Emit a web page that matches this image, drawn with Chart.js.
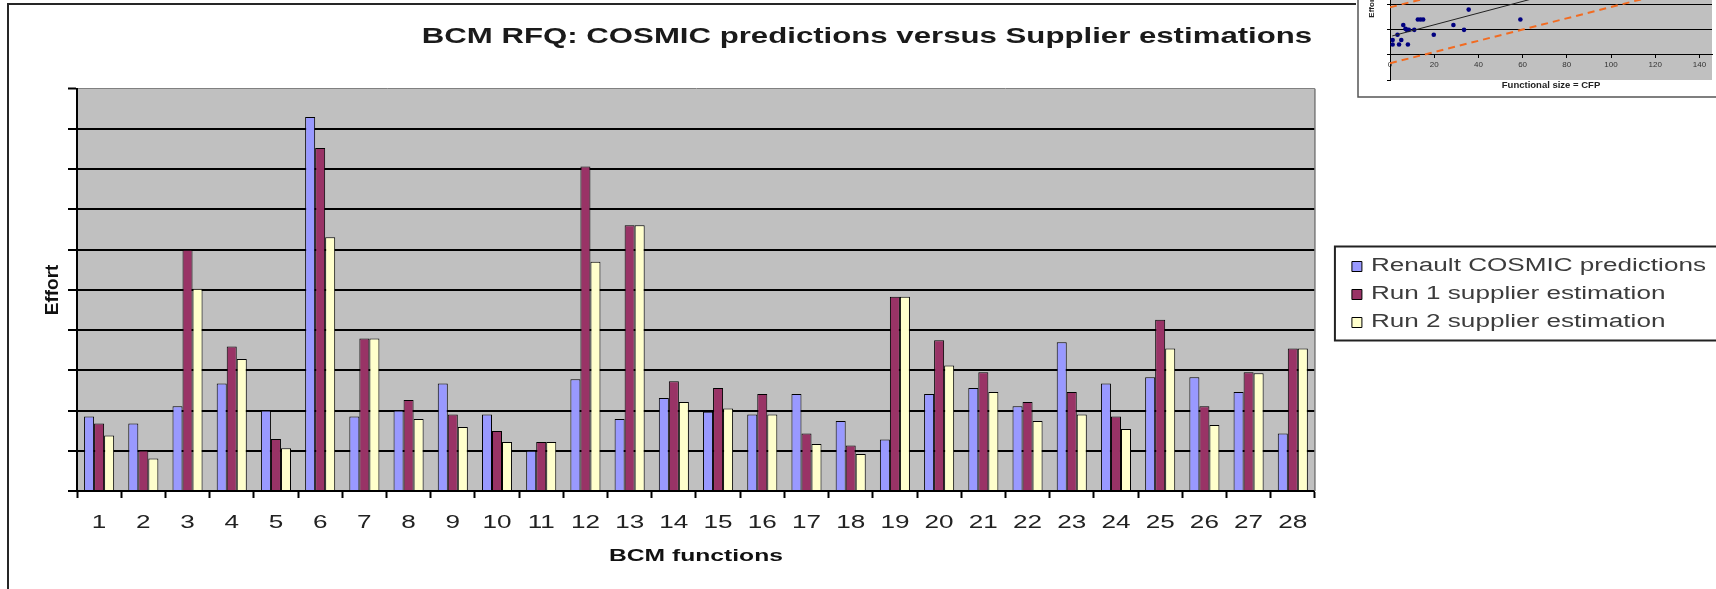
<!DOCTYPE html>
<html><head><meta charset="utf-8">
<script src="https://cdn.jsdelivr.net/npm/chart.js@4.4.0/dist/chart.umd.min.js"></script>
<style>
html,body{margin:0;padding:0;background:#fff;overflow:hidden;width:1716px;height:589px;}
#main{position:absolute;left:0;top:0;}
#inset{position:absolute;left:1357px;top:-70px;}
</style></head><body>
<canvas id="main" width="1716" height="589"></canvas>
<canvas id="inset" width="359" height="168"></canvas>
<script>
// ---------- main chart data ----------
const categories = ['1','2','3','4','5','6','7','8','9','10','11','12','13','14','15','16','17','18','19','20','21','22','23','24','25','26','27','28'];
const renaultCosmic = [1.85,1.68,2.11,2.67,2.00,9.30,1.85,2.00,2.67,1.90,1.00,2.78,1.79,2.31,1.97,1.90,2.41,1.74,1.28,2.41,2.56,2.11,3.70,2.67,2.83,2.83,2.46,1.43];
const run1Supplier = [1.68,1.01,6.00,3.59,1.29,8.53,3.79,2.26,1.90,1.49,1.22,8.07,6.61,2.73,2.56,2.41,1.43,1.13,4.83,3.75,2.95,2.21,2.46,1.85,4.26,2.11,2.95,3.54];
const run2Supplier = [1.38,0.81,5.03,3.28,1.06,6.31,3.79,1.79,1.59,1.22,1.22,5.70,6.61,2.21,2.05,1.90,1.17,0.92,4.83,3.12,2.46,1.74,1.90,1.54,3.54,1.64,2.93,3.54];
const mainYTicks = [0,1,2,3,4,5,6,7,8,9,10];

// ---------- inset chart data ----------
const insetSizes   = [1.2,1.2,4.1,3.4,5.1,6.0,7.0,7.6,8.5,8.1,11.0,12.6,13.8,15.0,19.8,28.7,33.5,35.6,59.0];
const insetEfforts = [0.58,0.40,0.40,0.79,0.58,1.17,1.02,0.98,0.98,0.40,0.98,1.39,1.39,1.39,0.79,1.17,0.98,1.78,1.39];
const regressionX = [1, 145];
const regressionY = [0.74, 4.07];
const lowerBoundX = [0, 145];
const lowerBoundY = [-0.34, 2.88];
const upperBoundX = [0, 145];
const upperBoundY = [1.87, 5.09];
const insetXTicks = [0,20,40,60,80,100,120,140];
const insetYTicks = [-1,0,1,2,3,4];

const FONT = "'Liberation Sans', Arial, sans-serif";

// horizontal text stretch for the main chart (reference text is widened)
const mainCanvas = document.getElementById('main');
const mctx = mainCanvas.getContext('2d');
const SX = 1.45;
const _fill = mctx.fillText.bind(mctx);
const _meas = mctx.measureText.bind(mctx);
mctx.fillText = function(t, x, y, mw) {
  const m = mctx.getTransform();
  if (Math.abs(m.b) > 1e-6 || Math.abs(m.c) > 1e-6) { return _fill(t, x, y); }
  mctx.save(); mctx.translate(x, y); mctx.scale(SX, 1); _fill(t, 0, 0); mctx.restore();
};
mctx.measureText = function(t) {
  const r = _meas(t);
  return { width: r.width * SX, actualBoundingBoxAscent: r.actualBoundingBoxAscent, actualBoundingBoxDescent: r.actualBoundingBoxDescent,
           actualBoundingBoxLeft: r.actualBoundingBoxLeft * SX, actualBoundingBoxRight: r.actualBoundingBoxRight * SX };
};

const mainDecor = {
  id: 'mainDecor',
  beforeDraw(chart) {
    const {ctx, chartArea: a} = chart;
    ctx.save();
    ctx.fillStyle = '#ffffff'; ctx.fillRect(0, 0, chart.width, chart.height);
    ctx.fillStyle = '#c0c0c0'; ctx.fillRect(a.left, a.top, a.right - a.left, a.bottom - a.top);
    ctx.strokeStyle = '#262626'; ctx.lineWidth = 2;
    ctx.beginPath(); ctx.moveTo(1356, 4); ctx.lineTo(8, 4); ctx.lineTo(8, chart.height); ctx.stroke();
    ctx.restore();
  },
  afterDatasetsDraw(chart) {
    const {ctx, chartArea: a} = chart;
    ctx.save(); ctx.strokeStyle = '#7a7a7a'; ctx.lineWidth = 1.5;
    ctx.beginPath(); ctx.moveTo(a.right, a.top); ctx.lineTo(a.right, a.bottom); ctx.stroke();
    ctx.restore();
  },
  afterDraw(chart) {
    const {ctx} = chart; const lg = chart.legend; const hb = lg.legendHitBoxes;
    if (!hb || !hb.length) return;
    const top = hb[0].top - 11;
    const bottom = hb[hb.length - 1].top + hb[hb.length - 1].height + 9;
    ctx.save(); ctx.strokeStyle = '#222'; ctx.lineWidth = 2;
    ctx.strokeRect(lg.left - 7, top, chart.width, bottom - top);
    ctx.restore();
  }
};

new Chart(mctx, {
  type: 'bar',
  data: {
    labels: categories,
    datasets: [
      { label: 'Renault COSMIC predictions', data: renaultCosmic, backgroundColor: '#9999ff', borderColor: '#000', borderWidth: 1 },
      { label: 'Run 1 supplier estimation', data: run1Supplier, backgroundColor: '#993366', borderColor: '#000', borderWidth: 1 },
      { label: 'Run 2 supplier estimation', data: run2Supplier, backgroundColor: '#ffffcc', borderColor: '#000', borderWidth: 1 }
    ]
  },
  options: {
    responsive: false, animation: false, devicePixelRatio: 1,
    categoryPercentage: 0.68, barPercentage: 1.0,
    layout: { padding: { left: 18, right: 0, top: 0, bottom: 0 } },
    plugins: {
      tooltip: { enabled: false },
      title: { display: true, text: 'BCM RFQ: COSMIC predictions versus Supplier estimations', align: 'center',
               color: '#1a1a1a', font: { family: FONT, size: 21.5, weight: 'bold' }, padding: { top: 24, bottom: 39 } },
      legend: { position: 'right', align: 'center', maxWidth: 500,
        labels: { boxWidth: 10, boxHeight: 10, padding: 10, color: '#3c3c3c', font: { family: FONT, size: 18 } } }
    },
    scales: {
      x: {
        grid: { display: true, drawOnChartArea: false, drawTicks: true, tickLength: 7, tickColor: '#000', tickWidth: 2, offset: true },
        border: { display: true, color: '#000', width: 2 },
        ticks: { color: '#222', font: { family: FONT, size: 18 }, padding: 14, maxRotation: 0, autoSkip: false },
        title: { display: true, text: 'BCM functions', color: '#111', font: { family: FONT, size: 17, weight: 'bold' }, padding: { top: 0, bottom: 22 } },
        afterFit: s => { s.height = 98; }
      },
      y: {
        min: 0, max: 10,
        afterBuildTicks: s => { s.ticks = mainYTicks.map(v => ({ value: v })); },
        grid: { color: c => (c.tick && c.tick.value === 10) ? '#808080' : '#000', lineWidth: c => (c.tick && c.tick.value === 10) ? 1 : 2,
                drawTicks: true, tickLength: 9, tickColor: '#000', tickWidth: 2 },
        border: { display: true, color: '#000', width: 2 },
        ticks: { display: false },
        title: { display: true, text: 'Effort', color: '#111', font: { family: FONT, size: 19, weight: 'bold' }, padding: { top: 23.6, bottom: 0 } },
        afterFit: s => { s.width = 59; }
      },
      y2: {
        type: 'linear', position: 'right', display: true,
        grid: { display: false, drawTicks: false }, border: { display: false }, ticks: { display: false },
        afterFit: s => { s.width = 27; }
      }
    }
  },
  plugins: [mainDecor]
});

// ---------- inset scatter ----------
const insetDecor = {
  id: 'insetDecor',
  beforeDraw(chart) {
    const {ctx, chartArea: a} = chart;
    ctx.save();
    ctx.fillStyle = '#ffffff'; ctx.fillRect(0, 0, chart.width, chart.height);
    ctx.fillStyle = '#c0c0c0'; ctx.fillRect(a.left, a.top, a.right - a.left, a.bottom - a.top);
    ctx.strokeStyle = '#555'; ctx.lineWidth = 1.5;
    ctx.beginPath(); ctx.moveTo(1, 0); ctx.lineTo(1, 167); ctx.lineTo(chart.width, 167); ctx.stroke();
    ctx.restore();
  }
};
const toPts = (xs, ys) => xs.map((x, i) => ({ x: x, y: ys[i] }));

new Chart(document.getElementById('inset').getContext('2d'), {
  type: 'scatter',
  data: {
    datasets: [
      { label: 'upper', data: toPts(upperBoundX, upperBoundY), showLine: true, borderColor: '#f26b21', borderWidth: 2, borderDash: [7, 5], pointRadius: 0 },
      { label: 'lower', data: toPts(lowerBoundX, lowerBoundY), showLine: true, borderColor: '#f26b21', borderWidth: 2, borderDash: [7, 5], pointRadius: 0 },
      { label: 'regression', data: toPts(regressionX, regressionY), showLine: true, borderColor: '#222', borderWidth: 1, pointRadius: 0 },
      { label: 'points', data: toPts(insetSizes, insetEfforts), backgroundColor: '#000080', borderColor: '#000080', pointRadius: 2.3, borderWidth: 0 }
    ]
  },
  options: {
    responsive: false, animation: false, devicePixelRatio: 1,
    layout: { padding: { left: 0, right: 0, top: 2, bottom: 18 } },
    plugins: { legend: { display: false }, tooltip: { enabled: false } },
    scales: {
      x: {
        type: 'linear', min: 0, max: 145.7, position: { y: 0 },
        afterBuildTicks: s => { s.ticks = insetXTicks.map(v => ({ value: v })); },
        grid: { drawOnChartArea: false, drawTicks: true, tickLength: 3, tickColor: '#000' },
        border: { display: true, color: '#000', width: 1 },
        ticks: { color: '#333', font: { family: FONT, size: 8 }, padding: 2, maxRotation: 0 },
        title: { display: true, text: 'Functional size = CFP', color: '#222', font: { family: FONT, size: 9.5, weight: 'bold' }, padding: { top: 8, bottom: 4 } }
      },
      y: {
        type: 'linear', min: -1, max: 4.766,
        afterBuildTicks: s => { s.ticks = insetYTicks.map(v => ({ value: v })); },
        grid: { color: c => (c.tick && c.tick.value === -1) ? 'rgba(0,0,0,0)' : '#000', lineWidth: 1, drawTicks: true, tickLength: 3, tickColor: '#000' },
        border: { display: true, color: '#000', width: 1 },
        ticks: { display: false },
        title: { display: true, text: 'Effort', color: '#222', font: { family: FONT, size: 8, weight: 'bold' }, padding: { top: 10, bottom: 0 } },
        afterFit: s => { s.width = 33; }
      }
    }
  },
  plugins: [insetDecor]
});
</script>
</body></html>
